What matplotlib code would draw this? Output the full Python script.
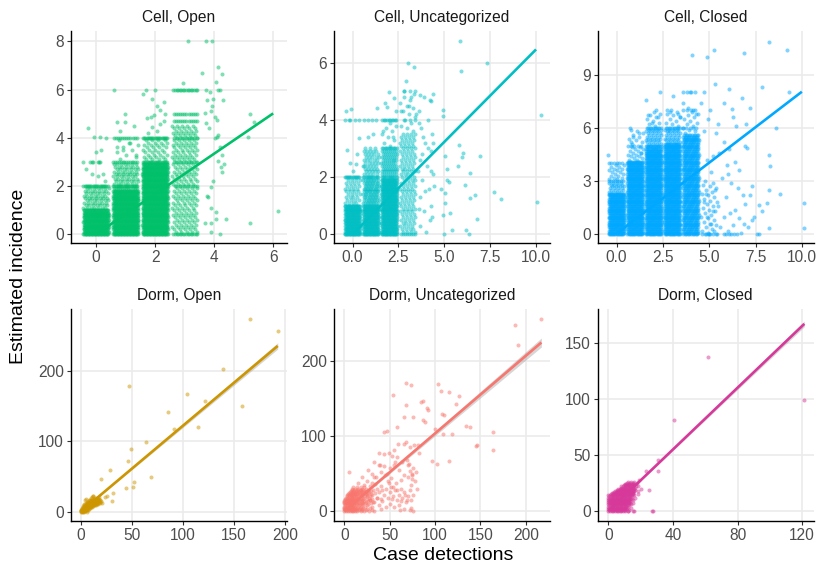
import matplotlib
matplotlib.use("Agg")
import matplotlib.pyplot as plt
from matplotlib.ticker import FormatStrFormatter

plt.rcParams['font.family'] = ['Liberation Sans', 'DejaVu Sans']

# ---------------------------------------------------------------- data
panel_titles = ["Cell, Open", "Cell, Uncategorized", "Cell, Closed",
                "Dorm, Open", "Dorm, Uncategorized", "Dorm, Closed"]
panel_colors = ["#00C06A", "#00BFC4", "#00A9FF", "#CD9600", "#F8766D", "#D6399A"]

# incidence values at which the dense stacks of cell observations sit
inc_levels = [0.0, 0.1, 0.2, 0.3, 0.4, 0.5, 0.6, 0.7, 0.8, 0.9,
              1.0, 1.1, 1.2, 1.3, 1.4, 1.5, 1.6, 1.7, 1.8, 1.9,
              2.0, 2.1, 2.2, 2.3, 2.4, 2.5, 2.6, 2.7, 2.8, 2.9,
              3.0, 3.1, 3.2, 3.3, 3.4, 3.5, 3.6, 3.7, 3.8, 3.9,
              4.0, 4.1, 4.2, 4.3, 4.4, 4.5, 4.6, 4.7, 4.8, 4.9,
              5.0, 5.1, 5.2, 5.3, 5.4, 5.5, 5.6, 5.7, 5.8, 5.9,
              6.0, 6.1, 6.2, 6.3, 6.4, 6.5, 6.6, 6.7, 6.8, 6.9,
              7.0, 7.1, 7.2, 7.3, 7.4, 7.5, 7.6, 7.7, 7.8, 7.9, 8.0]

# dense stacks: (case detections, lowest incidence, highest incidence, obs per level)
cell_open_stacks = [(0, 0.0, 1.0, 34), (0, 1.1, 1.9, 7), (0, 2.0, 2.0, 22), (0, 3.0, 3.0, 3),
                    (1, 0.0, 1.8, 34), (1, 1.9, 1.9, 12), (1, 2.0, 2.0, 22), (1, 2.1, 2.9, 7),
                    (1, 3.0, 3.0, 14), (1, 3.1, 3.9, 1), (1, 4.0, 4.0, 12),
                    (2, 0.0, 2.9, 34), (2, 3.0, 3.0, 22), (2, 3.1, 3.9, 4),
                    (2, 4.0, 4.0, 22),
                    (3, 0.0, 0.0, 16), (3, 0.1, 4.5, 5), (3, 2.0, 2.0, 6), (3, 3.0, 3.0, 9),
                    (3, 4.0, 4.0, 9), (3, 4.7, 4.7, 12), (3, 5.0, 5.0, 12), (3, 6.0, 6.0, 16)]
cell_unc_stacks = [(0, 0.0, 1.0, 22), (0, 1.1, 1.9, 4), (0, 2.0, 2.0, 14), (0, 4.0, 4.0, 3),
                   (1, 0.0, 1.0, 22), (1, 1.1, 1.9, 10), (1, 2.0, 2.0, 14), (1, 2.1, 2.9, 5),
                   (1, 3.0, 3.0, 3), (1, 4.0, 4.0, 4),
                   (2, 0.0, 1.9, 22), (2, 2.0, 2.0, 14), (2, 2.1, 2.9, 8), (2, 3.0, 3.0, 12),
                   (2, 3.1, 3.9, 1), (2, 4.0, 4.0, 10),
                   (3, 0.0, 0.0, 8), (3, 0.1, 3.5, 4), (3, 3.6, 4.9, 1), (3, 4.0, 4.0, 3),
                   (3, 5.0, 5.0, 3)]
cell_closed_stacks = [(0, 0.0, 2.3, 14), (0, 2.4, 2.9, 4), (0, 3.0, 3.0, 8), (0, 3.1, 3.9, 2),
                      (0, 4.0, 4.0, 6),
                      (1, 0.0, 4.1, 14), (1, 4.2, 4.9, 2), (1, 5.0, 5.0, 5), (1, 5.1, 5.9, 1),
                      (2, 0.0, 4.8, 14), (2, 4.9, 5.9, 4), (2, 5.0, 5.0, 10), (2, 6.0, 6.0, 10),
                      (2, 6.1, 6.9, 1),
                      (3, 0.0, 5.1, 14), (3, 5.2, 5.9, 4), (3, 6.0, 6.0, 10), (3, 6.1, 7.0, 1),
                      (4, 0.0, 5.6, 10), (4, 5.7, 6.9, 1), (4, 6.0, 6.0, 5), (4, 7.0, 7.0, 4),
                      (4, 8.0, 8.0, 4),
                      (5, 0.0, 0.0, 6), (5, 0.1, 2.9, 1), (6, 0.0, 0.0, 3)]

# isolated observations (case detections as drawn, estimated incidence)
cell_open_pts = [(-0.29, 4.4), (-0.07, 4.03), (0.14, 4.03), (0.34, 4.0), (-0.11, 3.0), (-0.22, 3.0),
                 (0.05, 3.0), (0.09, 3.0), (0.25, 2.5), (-0.15, 2.5), (0.05, 2.4), (0.18, 3.5),
                 (-0.02, 3.4), (0.3, 2.2), (-0.35, 2.7),
                 (0.59, 6.0), (0.98, 5.0), (0.98, 4.65), (0.72, 4.65), (1.3, 4.5), (0.8, 4.3),
                 (1.15, 3.8), (0.9, 3.5), (1.35, 3.3), (0.7, 3.6),
                 (2.0, 6.0), (1.68, 6.0), (1.88, 5.6), (1.6, 5.8), (2.31, 5.5), (2.06, 5.3),
                 (2.17, 5.15), (1.95, 4.95), (1.85, 4.85), (1.72, 4.8), (2.35, 5.0), (2.16, 4.55),
                 (1.9, 4.45), (2.07, 4.3), (1.75, 4.2), (2.3, 4.7),
                 (2.93, 6.26), (3.1, 8.0),
                 (3.71, 8.0), (3.92, 8.0), (3.59, 6.67), (4.14, 6.95), (4.25, 6.64), (3.72, 6.0),
                 (4.14, 6.0), (4.2, 6.0), (3.85, 5.9), (4.06, 6.33), (3.95, 5.6), (4.3, 5.57),
                 (3.75, 5.55), (3.92, 5.3), (3.69, 5.04), (3.88, 5.1), (4.02, 4.85), (3.74, 4.6),
                 (3.83, 4.4), (4.08, 4.75), (4.1, 4.05), (4.13, 4.1), (4.2, 3.6), (4.28, 3.3),
                 (4.13, 3.05), (4.22, 2.8), (4.28, 2.6), (3.97, 2.2), (3.88, 1.95), (3.8, 1.55),
                 (3.88, 1.08), (4.06, 0.93), (3.68, 0.45), (3.88, 0.48), (3.88, 0.11), (4.2, 0.0),
                 (4.05, 0.65), (4.4, 0.65), (3.75, 1.6), (4.35, 2.9), (4.03, 4.0),
                 (5.21, 5.0), (5.15, 4.05), (5.21, 0.48), (5.35, 4.67), (6.17, 0.98)]
cell_unc_pts = [(-0.34, 4.31), (-0.07, 4.37), (-0.31, 2.93), (-0.13, 2.5), (0.2, 2.47), (0.33, 3.36),
                (0.33, 4.0), (-0.2, 4.0), (0.05, 2.2), (0.25, 2.8),
                (1.32, 4.43), (0.85, 3.4), (1.1, 3.5), (0.6, 2.4),
                (2.0, 4.99), (1.75, 4.6), (2.25, 4.75), (1.9, 4.45), (2.35, 4.3), (1.65, 3.6), (2.2, 3.4),
                (3.0, 6.0), (3.36, 5.86), (2.92, 5.36), (2.8, 5.0), (3.2, 4.8), (3.1, 4.5), (2.65, 4.3),
                (3.45, 4.2),
                (4.41, 4.9), (3.68, 4.87), (3.9, 4.8), (4.23, 4.7), (4.3, 4.65), (3.6, 4.3), (4.1, 4.0),
                (3.75, 3.7), (4.35, 3.5), (3.95, 3.2), (4.25, 2.9), (3.7, 2.6), (4.05, 2.4), (4.4, 2.1),
                (3.8, 1.9), (4.15, 1.6), (3.65, 1.3), (4.3, 1.0), (3.9, 0.8), (4.2, 0.5), (3.7, 0.3),
                (4.0, 0.1), (4.45, 1.7), (3.55, 2.2), (4.35, 0.6), (3.85, 3.4), (4.1, 3.0),
                (3.6, 0.9), (3.95, 1.5), (4.25, 2.2), (3.8, 2.8), (4.4, 3.2), (3.62, 3.9),
                (4.92, 4.35), (4.95, 4.14), (5.05, 2.75), (5.15, 2.3), (5.28, 1.84), (5.05, 1.43),
                (5.06, 1.08), (4.92, 0.68), (4.97, 0.03), (5.4, 0.15), (5.32, 0.73), (5.15, 1.9),
                (4.8, 1.6), (5.83, 6.74), (5.9, 5.69), (5.8, 3.12), (6.04, 2.83), (5.95, 2.7),
                (5.75, 2.4), (6.13, 1.72), (6.4, 2.13), (6.4, 1.26), (6.17, 0.15), (6.37, 0.0),
                (6.7, 1.38), (6.77, 0.54), (6.95, 2.75), (7.35, 5.98), (7.71, 1.47), (8.08, 1.24),
                (10.07, 1.12), (10.25, 4.17)]
cell_closed_pts = [(-0.45, 4.47), (0.72, 6.0), (0.9, 5.5), (1.2, 5.7), (0.8, 5.2), (1.3, 4.6),
                   (2.34, 8.0), (1.59, 7.57), (2.1, 7.0), (1.7, 6.7), (2.25, 6.6), (1.9, 6.3),
                   (3.06, 7.82), (2.7, 7.0), (2.9, 6.9), (3.3, 6.8), (3.4, 6.6), (3.96, 8.05),
                   (3.6, 7.4), (3.85, 7.1), (4.1, 7.0), (4.3, 6.8),
                   (4.86, 10.02), (5.26, 10.4), (4.09, 10.1), (5.32, 8.48), (6.07, 8.2), (5.82, 7.39),
                   (6.22, 7.05), (6.88, 10.2), (6.76, 7.71), (7.84, 8.33), (8.25, 10.86), (9.22, 10.4),
                   (9.28, 8.0), (8.61, 6.01), (7.21, 7.1), (7.06, 4.85), (6.95, 5.0), (6.3, 6.6),
                   (5.5, 6.2), (4.95, 6.5), (4.7, 5.8), (5.35, 5.7), (5.8, 5.2), (5.55, 4.6), (5.2, 4.4),
                   (4.9, 4.2), (5.95, 3.9), (6.4, 4.1), (5.1, 3.5), (5.7, 3.2), (4.75, 3.0), (6.2, 2.9),
                   (6.55, 2.6), (5.3, 2.5), (4.85, 2.3), (5.9, 2.1), (6.8, 2.2), (7.21, 2.24),
                   (8.83, 2.27), (8.22, 4.47), (8.29, 3.87), (8.2, 2.5), (8.11, 1.79), (7.66, 1.65),
                   (7.84, 1.33), (8.25, 0.36), (10.09, 1.79), (10.13, 0.38), (7.71, 0.0), (7.57, 0.0),
                   (6.9, 0.6), (6.6, 0.9), (6.4, 1.4), (6.1, 1.2), (5.8, 1.0), (5.5, 1.6), (5.2, 1.3),
                   (4.9, 1.0), (4.7, 1.8), (5.1, 0.6), (5.6, 0.4), (6.0, 0.2), (6.3, 0.5), (6.7, 0.1),
                   (5.4, 0.0), (5.9, 0.0), (6.2, 0.0), (6.5, 0.0), (7.1, 0.4), (7.3, 0.8), (4.8, 0.0),
                   (5.0, 0.0), (5.25, 0.2), (7.4, 1.0), (6.95, 1.7), (7.3, 2.7), (6.6, 3.6), (6.05, 4.8),
                   (6.45, 6.1), (7.0, 6.2), (5.05, 7.0), (4.55, 7.4), (4.7, 8.0), (6.0, 3.4)]

dorm_open_pts = [(0, 0), (0, 1), (1, 0), (1, 1), (1, 2), (2, 1), (2, 2), (2, 3), (3, 2), (3, 3), (3, 4),
                 (4, 3), (4, 4), (4, 5), (5, 4), (5, 5), (5, 7), (6, 5), (6, 7), (6, 9), (7, 6), (7, 8),
                 (7, 10), (8, 7), (8, 9), (8, 11), (9, 8), (9, 10), (9, 12), (10, 9), (10, 11), (10, 13),
                 (11, 10), (11, 12), (12, 11), (12, 14), (13, 12), (13, 15), (14, 12), (14, 16),
                 (15, 14), (16, 13), (17, 15), (18, 14), (19, 16), (20, 15), (3, 6), (4, 8), (5, 10),
                 (6, 12), (7, 14), (8, 16), (9, 17), (10, 19), (11, 21), (12, 22), (5, 2), (7, 3),
                 (9, 5), (11, 7), (13, 9), (15, 10), (17, 11), (19, 12), (21, 13), (2, 0), (4, 1),
                 (6, 2), (3, 9), (5, 12), (6, 14), (4, 16), (5, 18.4), (2, 5), (1, 3), (0, 2), (0, 3),
                 (1, 5), (12.4, 22.2), (3, 0), (6, 0), (8, 4), (10, 6), (12, 8), (14, 9), (16, 11),
                 (2, 8), (3, 11), (7, 12), (9, 14), (11, 16), (13, 18), (15, 17), (17, 18), (8, 13),
                 (10, 15), (12, 17), (14, 19), (16, 20), (18, 21),
                 (1, 4), (2, 4), (3, 5), (4, 6), (5, 6), (6, 6), (7, 7), (8, 8), (9, 9), (10, 10),
                 (11, 11), (12, 12), (13, 13), (14, 14), (15, 15), (16, 16), (17, 17), (18, 18),
                 (15, 12), (17, 13), (19, 14), (16, 14), (18, 16), (13, 11), (11, 9), (9, 7), (7, 5),
                 (5, 3), (3, 1), (14, 11), (12, 10), (10, 8), (8, 6), (6, 4), (4, 2), (1.5, 1.5),
                 (0.5, 0.5), (3.5, 3.5), (2.5, 6.5), (4.5, 9.5), (6.5, 11), (8.5, 14.5), (10.5, 17),
                 (7.5, 9.5), (9.5, 11.5), (11.5, 13.5), (13.5, 16.5), (5.5, 8.5),
                 (165.7, 274), (192.8, 256.7), (139, 203), (47, 179), (103.7, 167), (121.7, 156.5),
                 (158, 150), (85, 141), (114.8, 120.6), (91, 116.8), (63.6, 98.3), (49.3, 88.9),
                 (46.3, 71.9), (28.4, 59.6), (68.5, 49.2), (20.2, 46.8), (52.5, 41.6), (44.4, 34),
                 (50.9, 35), (31.6, 26), (26, 21.7), (24.1, 20.8), (30.3, 15.6)]

# dense core of dorm observations: incidence rows and the case counts on each row
dorm_unc_core_y = [0, 1.5, 3, 4.5, 6, 7.5, 9, 10.5, 12, 13.5, 15, 16.5, 18, 19.5, 21, 22.5,
                   24, 25.5, 27, 28.5, 30, 31.5]
dorm_unc_core_x = [[0, 2, 4, 6, 8, 10, 12, 14, 18, 22, 27, 33],
                   [1, 3, 5, 7, 9, 11, 13, 16, 20, 24, 30],
                   [0, 1, 3, 5, 7, 9, 11, 13, 16, 20, 25],
                   [0, 2, 4, 6, 8, 10, 12, 14, 17, 21, 28],
                   [0, 2, 4, 6, 8, 10, 12, 15, 18, 23, 30],
                   [1, 3, 5, 7, 9, 11, 13, 16, 20, 25],
                   [1, 3, 5, 7, 9, 11, 14, 17, 21, 26],
                   [0, 2, 4, 6, 8, 10, 13, 16, 19, 23, 29],
                   [0, 2, 4, 6, 8, 10, 12, 15, 19, 24, 32],
                   [0, 2, 4, 6, 8, 10, 12, 14, 18, 22, 26],
                   [1, 3, 5, 7, 9, 11, 13, 16, 20, 28],
                   [1, 3, 5, 7, 9, 11, 13, 15, 17, 21, 25, 31],
                   [2, 4, 6, 8, 10, 12, 14, 18, 22, 27, 36],
                   [3, 5, 7, 9, 11, 13, 15, 19, 23, 28],
                   [3, 5, 7, 9, 11, 13, 16, 20, 25, 30],
                   [4, 6, 8, 10, 12, 14, 17, 20, 24, 29],
                   [5, 8, 10, 12, 14, 17, 21, 26, 34],
                   [6, 9, 11, 13, 16, 19, 23, 27],
                   [7, 10, 13, 15, 18, 23, 29],
                   [8, 11, 14, 17, 21, 26],
                   [9, 12, 15, 19, 24],
                   [10, 14, 18, 22]]
dorm_unc_pts = [(22, 35), (25, 40), (28, 33), (30, 38), (32, 28), (34, 36), (36, 30), (38, 25), (40, 34),
                (42, 28), (44, 22), (46, 30), (48, 18), (50, 25), (52, 32), (54, 20), (56, 28), (58, 15),
                (60, 22), (62, 30), (64, 18), (66, 25), (68, 12), (70, 20), (72, 28), (74, 15), (76, 22),
                (35, 45), (40, 52), (45, 48), (50, 58), (55, 62), (60, 55), (30, 50), (25, 20), (28, 15),
                (33, 12), (38, 8), (42, 14), (46, 6), (50, 10), (55, 5), (60, 8), (63, 13), (36, 18),
                (40, 16), (48, 40), (52, 44), (57, 38), (62, 42), (66, 48), (70, 45), (73, 35), (75, 50),
                (78, 40), (80, 30), (44, 60), (38, 62), (20, 45), (26, 55), (33, 66), (15, 38), (18, 28),
                (24, 26), (53, 74), (58, 72), (64, 66), (70, 62), (76, 58), (79, 52), (5.5, 52),
                (217.3, 256.4), (188.2, 248.4), (191.5, 221.3), (68, 171), (73.5, 167.6), (103, 169),
                (107, 159.6), (115.4, 159), (126.5, 153.8), (54, 155), (67.6, 141.8), (86.8, 146.7),
                (85, 146), (90.8, 137.8), (91.9, 134.7), (107.4, 130), (110.3, 128.4), (123, 143),
                (75.4, 125.8), (65.4, 125.3), (86.8, 121.8), (89, 119), (100, 110), (57.7, 112),
                (134.6, 113.3), (139, 111.6), (108.8, 103), (118.4, 102.7), (164.3, 106), (145.6, 87),
                (146.3, 87.5), (164, 81.3), (115.8, 67), (96.3, 66.7), (101.8, 63), (44, 105),
                (46.7, 107), (38.2, 77), (43.4, 76.4), (49.3, 77), (54.5, 82), (55.9, 66), (68.4, 92),
                (66, 89), (59.4, 89.5), (72.8, 86), (76.9, 88.6), (80.9, 88.2), (82.7, 76.8), (69, 68),
                (71, 62.7), (72.8, 54), (74.3, 47.6), (74.6, 42.2), (46.7, 50), (39.7, 61.8),
                (32.7, 45.8), (48.9, 36.9), (54, 31.6), (57.7, 28), (66.9, 21.3), (68.8, 14.7),
                (52.5, 15.5), (61.4, 1.3), (65.4, 2.2), (73.5, 4.4), (76.1, 0.4), (72.4, 1.3),
                (40.1, 2.7)]

dorm_closed_core_y = [0, 1, 2, 3, 4, 5, 6, 7, 8, 9, 10, 11, 12, 13, 14, 15, 16, 17, 18, 19, 20,
                      21, 22, 23, 24, 25, 26]
dorm_closed_core_x = [[0, 1, 2, 3, 4, 5, 6, 7, 8, 9, 10, 12, 16],
                      [0.5, 1.5, 2.5, 3.5, 4.5, 5.5, 6.5, 7.5, 8.5, 9.5, 10.5, 13],
                      [0, 1, 2, 3, 4, 5, 6, 7, 8, 9, 10, 11],
                      [0.5, 1.5, 2.5, 3.5, 4.5, 5.5, 6.5, 7.5, 8.5, 9.5, 10.5, 11.5],
                      [0, 1, 2, 3, 4, 5, 6, 7, 8, 9, 10, 11, 12],
                      [0.5, 1.5, 2.5, 3.5, 4.5, 5.5, 6.5, 7.5, 8.5, 9.5, 10.5, 11.5, 12.5],
                      [0, 1, 2, 3, 4, 5, 6, 7, 8, 9, 10, 11, 12, 14],
                      [0.5, 1.5, 2.5, 3.5, 4.5, 5.5, 6.5, 7.5, 8.5, 9.5, 10.5, 11.5, 12.5, 13.5],
                      [0, 1, 2, 3, 4, 5, 6, 7, 8, 9, 10, 11, 12, 13],
                      [0.5, 1.5, 2.5, 3.5, 4.5, 5.5, 6.5, 7.5, 8.5, 9.5, 10.5, 11.5, 12.5, 13.5],
                      [0, 1, 2, 3, 4, 5, 6, 7, 8, 9, 10, 11, 12, 13, 15],
                      [0.5, 1.5, 2.5, 3.5, 4.5, 5.5, 6.5, 7.5, 8.5, 9.5, 10.5, 11.5, 12.5, 13.5, 14.5],
                      [0, 1, 2, 3, 4, 5, 6, 7, 8, 9, 10, 11, 12, 13, 14],
                      [0.5, 1.5, 2.5, 3.5, 4.5, 5.5, 6.5, 7.5, 8.5, 9.5, 10.5, 11.5, 12.5, 13.5, 14.5],
                      [0, 1, 2, 3, 4, 5, 6, 7, 8, 9, 10, 11, 12, 13, 14, 16],
                      [1.5, 2.5, 3.5, 4.5, 5.5, 6.5, 7.5, 8.5, 9.5, 10.5, 11.5, 12.5, 13.5, 14.5, 15.5],
                      [2, 3, 4, 5, 6, 7, 8, 9, 10, 11, 12, 13, 14, 15],
                      [3.5, 4.5, 5.5, 6.5, 7.5, 8.5, 9.5, 10.5, 11.5, 12.5, 13.5, 14.5, 15.5],
                      [4, 5, 6, 7, 8, 9, 10, 11, 12, 13, 14, 15, 16, 18],
                      [5.5, 6.5, 7.5, 8.5, 9.5, 10.5, 11.5, 12.5, 13.5, 14.5, 15.5, 16.5],
                      [6, 7, 8, 9, 10, 11, 12, 13, 14, 15, 16],
                      [7.5, 8.5, 9.5, 10.5, 11.5, 12.5, 13.5, 14.5, 15.5, 16.5],
                      [8, 9, 10, 11, 12, 13, 14, 15, 17],
                      [9.5, 10.5, 11.5, 12.5, 13.5, 14.5, 15.5],
                      [10, 11, 12, 13, 14, 15, 16],
                      [11.5, 13.5, 15.5],
                      [12, 14, 16]]
dorm_closed_pts = [(61.6, 137), (121.4, 98.9), (40.4, 81.4), (30.9, 45.1), (30.7, 35.3), (23.1, 35.6),
                   (25.4, 18.4), (27.4, 0), (27.0, 0), (15.5, 0), (12.4, 0), (20.2, 19.6), (18.6, 22.5),
                   (16.3, 11.3), (15.2, 7.4), (17.5, 25), (19, 28), (14, 3), (18, 15), (13, 17)]

# fitted regression lines (slope, intercept, x-range) and CI half-width at the far end
fit_slope = [0.835, 0.646, 0.80, 1.22, 1.035, 1.375]
fit_intercept = [0.0, 0.0, 0.04, 0.0, 0.0, 0.0]
fit_xmin = [0, 0, 0, 0, 0, 0]
fit_xmax = [6, 10, 10, 192.8, 217.3, 121.4]
fit_ci = [0, 0, 0, 4.5, 6.0, 2.5]

# ---------------------------------------------------------------- helpers
JITTER = 0.43


def expand_stacks(stacks):
    xs, ys = [], []
    for cd, lo, hi, n in stacks:
        j = 0
        for lev in inc_levels:
            if lo - 1e-9 <= lev <= hi + 1e-9:
                shift = (j * 0.618034 + cd * 0.29) % 1.0
                for k in range(n):
                    u = ((k + shift) / n) % 1.0
                    xs.append(cd + (u - 0.5) * 2 * JITTER)
                    ys.append(lev)
                j += 1
    return xs, ys


def expand_rows(rows_y, rows_x):
    xs, ys = [], []
    for yv, row in zip(rows_y, rows_x):
        for xv in row:
            xs.append(xv)
            ys.append(yv)
    return xs, ys


def unzip(pts):
    return [p[0] for p in pts], [p[1] for p in pts]


panel_points = []
for stacks, pts in [(cell_open_stacks, cell_open_pts),
                    (cell_unc_stacks, cell_unc_pts),
                    (cell_closed_stacks, cell_closed_pts)]:
    sx, sy = expand_stacks(stacks)
    px, py = unzip(pts)
    panel_points.append((sx + px, sy + py))
px, py = unzip(dorm_open_pts)
panel_points.append((px, py))
cx, cy = expand_rows(dorm_unc_core_y, dorm_unc_core_x)
px, py = unzip(dorm_unc_pts)
panel_points.append((cx + px, cy + py))
cx, cy = expand_rows(dorm_closed_core_y, dorm_closed_core_x)
px, py = unzip(dorm_closed_pts)
panel_points.append((cx + px, cy + py))

# ---------------------------------------------------------------- layout
fig = plt.figure(figsize=(8.22, 5.71), dpi=100)
lefts = [0.0864, 0.4063, 0.7269]
bottoms = [0.5750, 0.0881]
W, H = 0.2628, 0.370

xlims = [(-0.85, 6.47), (-1.01, 10.76), (-1.03, 10.63),
         (-9.5, 201.9), (-11.4, 226.8), (-6.8, 127.1)]
ylims = [(-0.35, 8.41), (-0.29, 7.09), (-0.47, 11.44),
         (-12.8, 287), (-12.9, 269), (-8.6, 179.8)]
xticks = [[0, 2, 4, 6], [0, 2.5, 5, 7.5, 10], [0, 2.5, 5, 7.5, 10],
          [0, 50, 100, 150, 200], [0, 50, 100, 150, 200], [0, 40, 80, 120]]
yticks = [[0, 2, 4, 6, 8], [0, 2, 4, 6], [0, 3, 6, 9],
          [0, 100, 200], [0, 100, 200], [0, 50, 100, 150]]

for i in range(6):
    r, c = divmod(i, 3)
    ax = fig.add_axes([lefts[c], bottoms[r], W, H])
    col = panel_colors[i]
    xs, ys = panel_points[i]
    ax.scatter(xs, ys, s=8.5, color=col, alpha=0.5, linewidths=0, zorder=2)

    x0, x1 = fit_xmin[i], fit_xmax[i]
    lx = [x0 + (x1 - x0) * t / 50 for t in range(51)]
    ly = [fit_intercept[i] + fit_slope[i] * v for v in lx]
    if fit_ci[i] > 0:
        hw = [fit_ci[i] * (0.12 + 0.88 * v / x1) for v in lx]
        ax.fill_between(lx, [a - b for a, b in zip(ly, hw)], [a + b for a, b in zip(ly, hw)],
                        color="#999999", alpha=0.4, linewidth=0, zorder=3)
    ax.plot(lx, ly, color=col, lw=1.9, zorder=4, solid_capstyle='butt')

    ax.set_xlim(*xlims[i])
    ax.set_ylim(*ylims[i])
    ax.set_xticks(xticks[i])
    ax.set_yticks(yticks[i])
    if i in (1, 2):
        ax.xaxis.set_major_formatter(FormatStrFormatter('%.1f'))
    ax.grid(True, color="#EBEBEB", lw=1.2, zorder=0)
    ax.set_axisbelow(True)
    for sp in ("top", "right"):
        ax.spines[sp].set_visible(False)
    for sp in ("left", "bottom"):
        ax.spines[sp].set_color("black")
        ax.spines[sp].set_linewidth(1.0)
    ax.tick_params(axis='both', which='major', direction='out', length=3.0, width=0.8,
                   color="#333333", labelsize=11.2, labelcolor="#4D4D4D", pad=2)
    ax.set_title(panel_titles[i], fontsize=11.2, color="#1A1A1A", pad=7)

fig.text(0.0219, 0.5166, "Estimated incidence", rotation=90, fontsize=14,
         ha='center', va='center', color='black')
fig.text(0.539, 0.0263, "Case detections", fontsize=14, ha='center', va='center', color='black')

fig.savefig("out.png", dpi=100)
